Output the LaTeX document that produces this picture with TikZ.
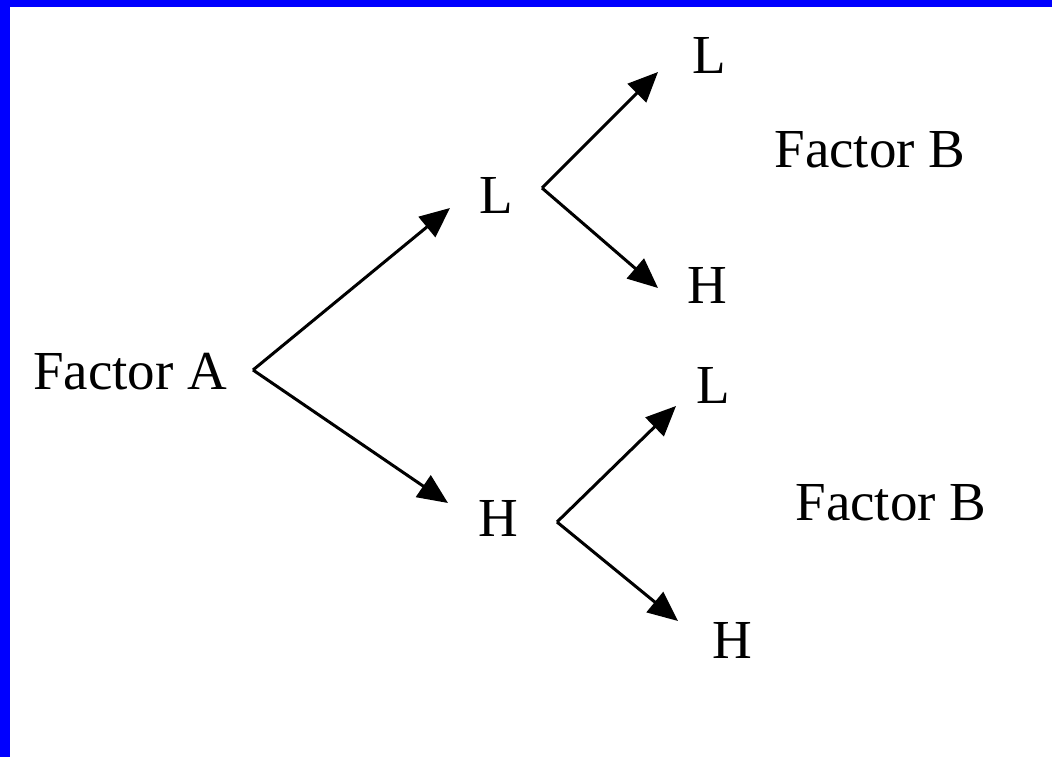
\documentclass[tikz,border=0pt]{standalone}
\usepackage{fontspec}
\setmainfont{Liberation Serif}
\usetikzlibrary{arrows.meta}
\definecolor{frameblue}{RGB}{0,0,255}
\tikzset{
  lbl/.style={inner sep=0pt, font=\fontsize{55}{60}\selectfont, anchor=center},
  arr/.style={line width=3pt, -{Triangle[length=30pt,width=26pt]}},
}
\begin{document}
\begin{tikzpicture}[x=1pt,y=-1pt]
\useasboundingbox (0,0) rectangle (1052,757);
\fill[white] (0,0) rectangle (1052,757);
\fill[frameblue] (0,0) rectangle (1052,7);
\fill[frameblue] (0,0) rectangle (10,757);
% labels
\node[lbl] (fa) at (130,372) {Factor A};
\node[lbl] (l1) at (496,195) {L};
\node[lbl] (h1) at (498,518) {H};
\node[lbl] (l2) at (709,55) {L};
\node[lbl] (h2) at (707,285) {H};
\node[lbl] (l3) at (713,385) {L};
\node[lbl] (h3) at (732,640) {H};
\node[lbl] (fb1) at (870,150) {Factor B};
\node[lbl] (fb2) at (891,503) {Factor B};
% vertices and tips
\coordinate (va) at (253,370);
\coordinate (vl) at (542,188);
\coordinate (vh) at (557,522);
\coordinate (tl1) at (450,208);
\coordinate (th1) at (448,503);
\coordinate (tl2) at (658,72);
\coordinate (th2) at (658,288);
\coordinate (tl3) at (676,406);
\coordinate (th3) at (678,621);
% arrows
\draw[arr] (va) -- (tl1);
\draw[arr] (va) -- (th1);
\draw[arr] (vl) -- (tl2);
\draw[arr] (vl) -- (th2);
\draw[arr] (vh) -- (tl3);
\draw[arr] (vh) -- (th3);
\end{tikzpicture}
\end{document}
